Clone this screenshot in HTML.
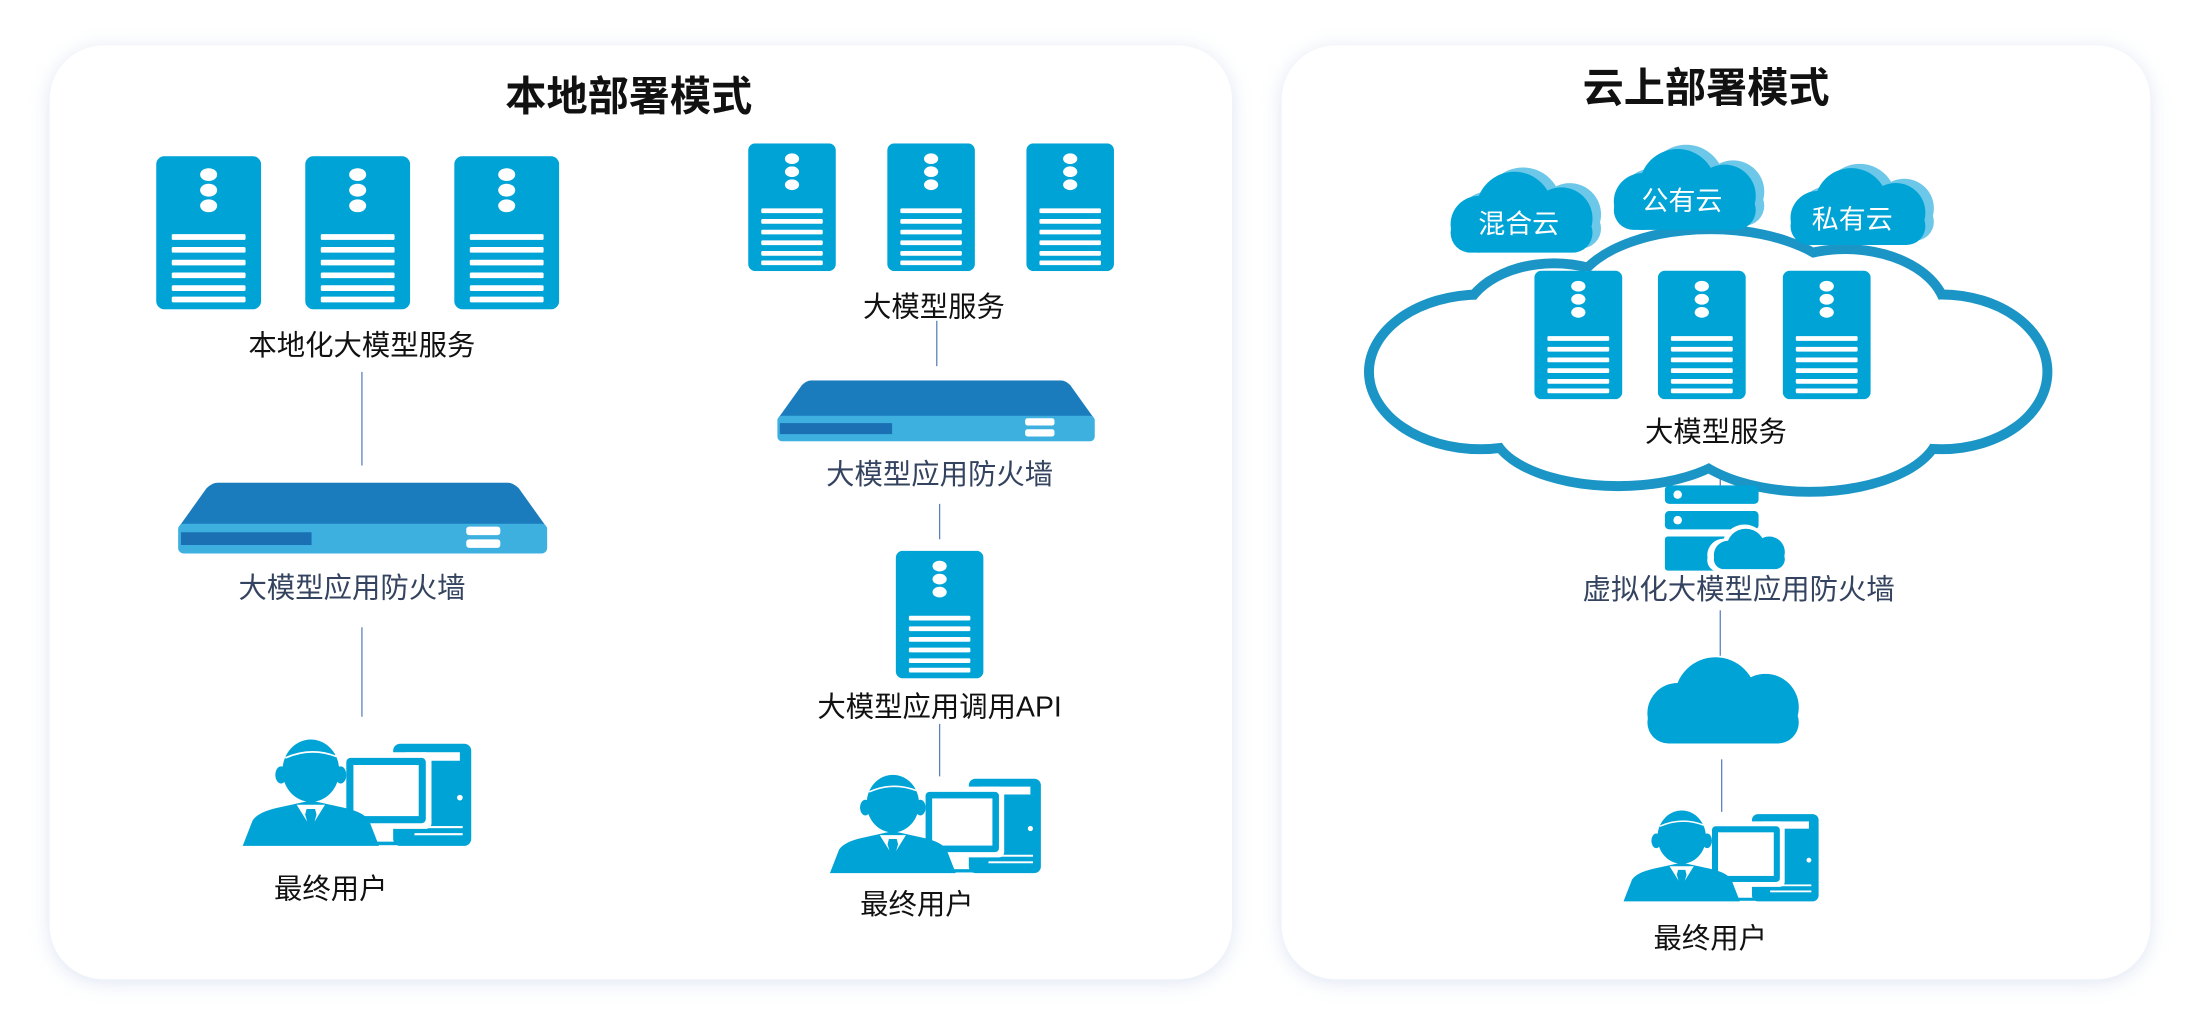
<!DOCTYPE html>
<html><head><meta charset="utf-8"><style>
html,body{margin:0;padding:0;background:#fff;}
svg{display:block;}
text{font-family:"Liberation Sans","Noto Sans CJK SC",sans-serif;}
</style></head><body>
<svg width="2200" height="1029" viewBox="0 0 1550 725" preserveAspectRatio="none" xmlns="http://www.w3.org/2000/svg">
<defs>
<filter id="sh" x="-10%" y="-10%" width="120%" height="120%"><feGaussianBlur stdDeviation="7"/></filter>
<symbol id="srv" viewBox="0 0 74 108">
<rect x="0" y="0" width="74" height="108" rx="6" fill="#00a3d6"/>
<ellipse cx="37" cy="13" rx="6" ry="4.5" fill="#fff"/>
<ellipse cx="37" cy="24" rx="6" ry="4.5" fill="#fff"/>
<ellipse cx="37" cy="35" rx="6" ry="4.5" fill="#fff"/>
<g fill="#fff"><rect x="11" y="55" width="52" height="4" rx="1"/><rect x="11" y="64" width="52" height="4" rx="1"/><rect x="11" y="73" width="52" height="4" rx="1"/><rect x="11" y="82" width="52" height="4" rx="1"/><rect x="11" y="91" width="52" height="4" rx="1"/><rect x="11" y="99" width="52" height="4" rx="1"/></g>
</symbol>
<symbol id="fw" viewBox="0 0 260 50">
<path d="M28,0 H232 Q236,0 240,4 L260,32 H0 L20,4 Q24,0 28,0 Z" fill="#1a7cbd"/>
<rect x="0" y="29" width="260" height="21" rx="4" fill="#3db0e0"/>
<rect x="2" y="35" width="92" height="9" fill="#1a70b2"/>
<rect x="203" y="31" width="24" height="6" rx="2" fill="#fff"/>
<rect x="203" y="40" width="24" height="6" rx="2" fill="#fff"/>
</symbol>
<symbol id="usr" viewBox="-4 -6 164 78">
<rect x="103" y="-2" width="55" height="72" rx="5" fill="#00a3d6"/>
<rect x="112" y="4" width="38" height="6" fill="#fff"/>
<circle cx="150" cy="36" r="2" fill="#fff"/>
<rect x="118" y="56" width="34" height="1.5" fill="#fff"/><rect x="118" y="61" width="34" height="1.5" fill="#fff"/>
<rect x="66" y="4" width="64" height="54" rx="4" fill="#fff"/>
<rect x="70" y="8" width="56" height="46" rx="3" fill="#00a3d6"/>
<rect x="75" y="13" width="46" height="36" fill="#fff"/>
<rect x="62" y="67" width="60" height="2.5" fill="#00a3d6"/>
<path d="M-3,70 L4,52 Q8,46 22,43 L45,38 L68,43 Q82,46 86,52 L93,70 Z" fill="#00a3d6"/>
<path d="M35,41 L45,57 L55,41 Z" fill="#fff"/>
<path d="M42,44 L48,44 L49,48 L45,62 L41,48 Z" fill="#00a3d6"/>
<ellipse cx="45" cy="17" rx="20" ry="22" fill="#00a3d6"/>
<ellipse cx="24" cy="20" rx="4" ry="6" fill="#00a3d6"/>
<ellipse cx="66" cy="20" rx="4" ry="6" fill="#00a3d6"/>
<path d="M27,8 Q45,0 63,7" stroke="#fff" stroke-width="1.2" fill="none"/>
</symbol>
<symbol id="cl" viewBox="0 0 120 60">
<g>
<circle cx="30" cy="38" r="20"/><circle cx="55" cy="28" r="27"/><circle cx="88" cy="34" r="22"/><rect x="10" y="30" width="100" height="28" rx="14"/>
</g>
</symbol>
</defs>

<rect x="35" y="34" width="833" height="658" rx="38" fill="#c8d4ea" filter="url(#sh)" opacity="0.6"/>
<rect x="35" y="32" width="833" height="658" rx="38" fill="#fff"/>
<rect x="903" y="34" width="612" height="658" rx="38" fill="#c8d4ea" filter="url(#sh)" opacity="0.6"/>
<rect x="903" y="32" width="612" height="658" rx="38" fill="#fff"/>

<g font-weight="bold" font-size="29" fill="#111" text-anchor="middle">
<text x="443" y="78">本地部署模式</text>
<text x="1202" y="72">云上部署模式</text>
</g>

<g stroke="#5b7fc0" stroke-width="0.9">
<line x1="255" y1="262" x2="255" y2="328"/>
<line x1="255" y1="442" x2="255" y2="505"/>
<line x1="660" y1="226" x2="660" y2="258"/>
<line x1="662" y1="355" x2="662" y2="380"/>
<line x1="662" y1="510" x2="662" y2="547"/>
<line x1="1212" y1="310" x2="1212" y2="345"/>
<line x1="1212" y1="430" x2="1212" y2="462"/>
<line x1="1213" y1="535" x2="1213" y2="572"/>
</g>

<use href="#srv" x="110" y="110" width="74" height="108"/>
<use href="#srv" x="215" y="110" width="74" height="108"/>
<use href="#srv" x="320" y="110" width="74" height="108"/>
<use href="#fw" x="125" y="340" width="261" height="50"/>
<use href="#usr" x="170" y="520" width="164" height="78"/>

<use href="#srv" x="523" y="101" width="70" height="90"/>
<use href="#srv" x="621" y="101" width="70" height="90"/>
<use href="#srv" x="719" y="101" width="70" height="90"/>
<use href="#fw" x="539" y="268" width="241" height="43"/>
<use href="#srv" x="627" y="388" width="70" height="90"/>
<use href="#usr" x="583" y="545" width="153" height="72"/>

<g fill="#1b95c6">
<ellipse cx="1205" cy="265" rx="205" ry="64"/>
<ellipse cx="1043" cy="262" rx="82" ry="58"/>
<ellipse cx="1368" cy="262" rx="78" ry="58"/>
<ellipse cx="1095" cy="228" rx="68" ry="46"/>
<ellipse cx="1205" cy="210" rx="100" ry="52"/>
<ellipse cx="1300" cy="222" rx="75" ry="50"/>
<ellipse cx="1140" cy="302" rx="92" ry="44"/>
<ellipse cx="1275" cy="302" rx="95" ry="48"/>
</g>
<g fill="#fff">
<ellipse cx="1205" cy="265" rx="198" ry="57"/>
<ellipse cx="1043" cy="262" rx="75" ry="51"/>
<ellipse cx="1368" cy="262" rx="71" ry="51"/>
<ellipse cx="1095" cy="228" rx="61" ry="39"/>
<ellipse cx="1205" cy="210" rx="93" ry="45"/>
<ellipse cx="1300" cy="222" rx="68" ry="43"/>
<ellipse cx="1140" cy="302" rx="85" ry="37"/>
<ellipse cx="1275" cy="302" rx="88" ry="41"/>
</g>

<use href="#cl" x="1018" y="115" width="120" height="64" fill="#6cc7e8"/>
<use href="#cl" x="1012" y="119" width="120" height="62" fill="#00a3d6"/>
<use href="#cl" x="1133" y="98" width="120" height="66" fill="#6cc7e8"/>
<use href="#cl" x="1127" y="102" width="120" height="64" fill="#00a3d6"/>
<use href="#cl" x="1258" y="111" width="114" height="64" fill="#6cc7e8"/>
<use href="#cl" x="1252" y="115" width="114" height="62" fill="#00a3d6"/>
<g font-size="19" fill="#fff" text-anchor="middle">
<text x="1070" y="164">混合云</text>
<text x="1185" y="148">公有云</text>
<text x="1305" y="161">私有云</text>
</g>

<use href="#srv" x="1081" y="190" width="62" height="92"/>
<use href="#srv" x="1168" y="190" width="62" height="92"/>
<use href="#srv" x="1256" y="190" width="62" height="92"/>

<rect x="1173" y="342" width="66" height="13" rx="3" fill="#00a3d6"/>
<circle cx="1182" cy="348.5" r="3" fill="#fff"/>
<rect x="1173" y="360" width="66" height="13" rx="3" fill="#00a3d6"/>
<circle cx="1182" cy="366.5" r="3" fill="#fff"/>
<rect x="1173" y="378" width="66" height="24" rx="2" fill="#00a3d6"/>
<use href="#cl" x="1197" y="369" width="70" height="35" fill="#fff"/>
<use href="#cl" x="1201" y="372" width="63" height="30" fill="#00a3d6"/>

<use href="#cl" x="1150" y="462" width="128" height="64" fill="#00a3d6"/>
<use href="#usr" x="1143" y="570" width="140" height="67"/>

<g font-size="20" fill="#111" text-anchor="middle">
<text x="255" y="250">本地化大模型服务</text>
<text x="658" y="223">大模型服务</text>
<text x="662" y="505">大模型应用调用API</text>
<text x="233" y="633">最终用户</text>
<text x="646" y="644">最终用户</text>
<text x="1209" y="311">大模型服务</text>
<text x="1205" y="668">最终用户</text>
</g>
<g font-size="20" fill="#34435f" text-anchor="middle">
<text x="248" y="421">大模型应用防火墙</text>
<text x="662" y="341">大模型应用防火墙</text>
<text x="1225" y="422">虚拟化大模型应用防火墙</text>
</g>
</svg>
</body></html>
